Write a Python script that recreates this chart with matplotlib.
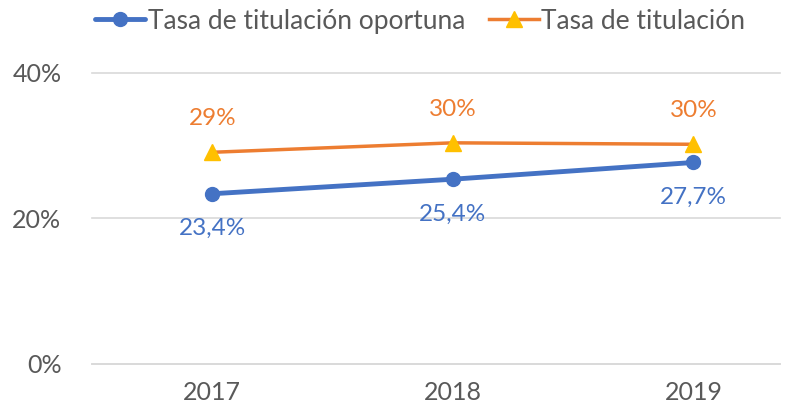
import numpy as np
import matplotlib.pyplot as plt

years = ['2017', '2018', '2019']
oportuna = [0.234, 0.254, 0.277]
titulacion = [0.291, 0.304, 0.302]
oportuna_lbl = ['23,4%', '25,4%', '27,7%']
titulacion_lbl = ['29%', '30%', '30%']

plt.rcParams['font.family'] = ['Lato', 'DejaVu Sans']

blue = '#4472C4'
orange = '#ED7D31'
gold = '#FFC000'

fig = plt.figure(figsize=(7.97, 4.11), dpi=100)
ax = fig.add_axes([0.1154, 0.1144, 0.8633, 0.708])

x = np.arange(len(years))
ax.plot(x, oportuna, color=blue, lw=3.5, marker='o', ms=10,
        label='Tasa de titulación oportuna', solid_capstyle='round')
ax.plot(x, titulacion, color=orange, lw=2.5, marker='^', ms=11,
        mfc=gold, mec=gold, label='Tasa de titulación')

for xi, v, t in zip(x, oportuna, oportuna_lbl):
    ax.annotate(t, (xi, v), xytext=(0, -25), textcoords='offset points',
                ha='center', va='center', color=blue, fontsize=17.5)
for xi, v, t in zip(x, titulacion, titulacion_lbl):
    ax.annotate(t, (xi, v), xytext=(0, 24), textcoords='offset points',
                ha='center', va='center', color=orange, fontsize=17.5)

ax.set_ylim(0, 0.4)
ax.set_yticks([0, 0.2, 0.4])
ax.set_yticklabels(['0%', '20%', '40%'])
ax.set_xlim(-0.5, 2.36)
ax.set_xticks(x)
ax.set_xticklabels(years)
ax.grid(axis='y', color='#D9D9D9', lw=1.2, clip_on=False)
ax.set_axisbelow(True)
for s in ax.spines.values():
    s.set_visible(False)
ax.spines['bottom'].set_visible(True)
ax.spines['bottom'].set_color('#D9D9D9')
ax.spines['bottom'].set_linewidth(1.2)
ax.tick_params(length=0, labelsize=18, colors='#595959', pad=12)
ax.tick_params(axis='y', pad=22)

leg = ax.legend(loc='lower left', bbox_to_anchor=(0.004, 1.135), ncol=2,
                frameon=False, fontsize=19, handlelength=1.9,
                columnspacing=0.9, handletextpad=0.1, borderaxespad=0,
                borderpad=0)
for t in leg.get_texts():
    t.set_color('#595959')

fig.savefig('out.png', dpi=100)
